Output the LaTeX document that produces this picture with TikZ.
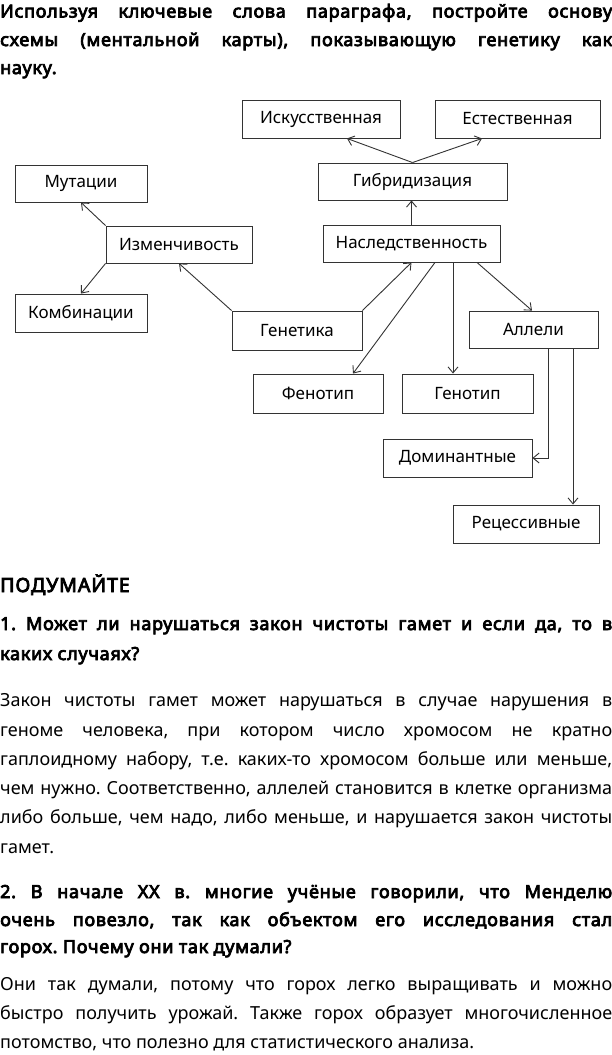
\documentclass[tikz,border=0pt]{standalone}
\usepackage{fontspec}
\setmainfont{Noto Sans}[AutoFakeBold=4.2]
\usetikzlibrary{arrows.meta}
\frenchspacing
\newcommand\jline[1]{\makebox[612pt][s]{#1}}
\newcommand\bodyfont{\fontsize{18}{21}\selectfont}
\newcommand\headfont{\fontsize{18}{21}\selectfont\bfseries\addfontfeatures{LetterSpace=4}}
\begin{document}
\begin{tikzpicture}[x=1pt,y=-1pt,
  box/.style={draw=black!80, line width=0.9pt, inner sep=0pt, font=\fontsize{17}{20}\selectfont, text=black},
  arr/.style={line width=0.9pt, draw=black!80, -{Straight Barb[length=6pt,width=10pt]}},
  ln/.style={anchor=base west, inner sep=0pt, text=black}
]
\useasboundingbox[fill=white] (0,0) rectangle (612,1055);

% title
\node[ln, font=\headfont] (t1) at (0,17.5) {\jline{Используя ключевые слова параграфа, постройте основу}};
\node[ln, font=\headfont] (t2) at (0,46) {\jline{схемы (ментальной карты), показывающую генетику как}};
\node[ln, font=\headfont] (t3) at (0,74) {науку.};

% boxes
\node[box, minimum width=158pt, minimum height=38pt] (isk) at (321,119) {Искусственная};
\node[box, minimum width=165pt, minimum height=38pt] (est) at (517.5,119) {Естественная};
\node[box, minimum width=189pt, minimum height=37pt] (gib) at (412.5,181.5) {Гибридизация};
\node[box, minimum width=177pt, minimum height=37pt] (nas) at (411.5,243.5) {Наследственность};
\node[box, minimum width=130pt, minimum height=39pt] (gen) at (297,330.5) {Генетика};
\node[box, minimum width=129pt, minimum height=37pt] (all) at (533.5,329.5) {Аллели};
\node[box, minimum width=132pt, minimum height=37pt] (mut) at (81,183.5) {Мутации};
\node[box, minimum width=146pt, minimum height=37pt] (izm) at (179,244.5) {Изменчивость};
\node[box, minimum width=132pt, minimum height=38pt] (kom) at (81,313) {Комбинации};
\node[box, minimum width=130pt, minimum height=39pt] (fen) at (318,393.5) {Фенотип};
\node[box, minimum width=131pt, minimum height=39pt] (gnt) at (467.5,393.5) {Генотип};
\node[box, minimum width=149pt, minimum height=38pt] (dom) at (457.5,458) {Доминантные};
\node[box, minimum width=146pt, minimum height=38pt] (rec) at (526,524) {Рецессивные};

% connectors
\draw[arr] (gib.north) -- ([xshift=26pt]isk.south);
\draw[arr] (gib.north) -- ([xshift=-35.5pt]est.south);
\draw[arr] (nas.north) -- (nas.north |- gib.south);
\draw[arr] (gen.north east) -- (nas.south);
\draw[arr] ([xshift=23.5pt]nas.south) -- ([xshift=35pt]fen.north);
\coordinate (g1) at ([xshift=41.5pt]nas.south);
\draw[arr] (g1) -- (g1 |- gnt.north);
\draw[arr] ([xshift=65.5pt]nas.south) -- ([xshift=-1.5pt]all.north);
\coordinate (a1) at ([xshift=14.5pt]all.south);
\draw[arr] (a1) |- (dom.east);
\coordinate (a2) at ([xshift=39.5pt]all.south);
\draw[arr] (a2) -- (a2 |- rec.north);
\draw[arr] (gen.north west) -- (izm.south);
\draw[arr] (izm.north west) -- (mut.south);
\draw[arr] (izm.south west) -- (kom.north);

% questions
\node[ln, font=\fontsize{19.5}{22}\selectfont\bfseries\addfontfeatures{LetterSpace=5}] (h0) at (0,592) {ПОДУМАЙТЕ};
\node[ln, font=\headfont] (q1a) at (0,630) {\jline{1. Может ли нарушаться закон чистоты гамет и если да, то в}};
\node[ln, font=\headfont] (q1b) at (0,660) {каких случаях?};
\node[ln, font=\bodyfont] (b1) at (0,706.7) {\jline{Закон чистоты гамет может нарушаться в случае нарушения в}};
\node[ln, font=\bodyfont] (b2) at (0,736) {\jline{геноме человека, при котором число хромосом не кратно}};
\node[ln, font=\bodyfont] (b3) at (0,765.2) {\jline{гаплоидному набору, т.е. каких-то хромосом больше или меньше,}};
\node[ln, font=\bodyfont] (b4) at (0,794.5) {\jline{чем нужно. Соответственно, аллелей становится в клетке организма}};
\node[ln, font=\bodyfont] (b5) at (0,823.7) {\jline{либо больше, чем надо, либо меньше, и нарушается закон чистоты}};
\node[ln, font=\bodyfont] (b6) at (0,853) {гамет.};
\node[ln, font=\headfont] (q2a) at (0,898) {\jline{2. В начале XX в. многие учёные говорили, что Менделю}};
\node[ln, font=\headfont] (q2b) at (0,926) {\jline{очень повезло, так как объектом его исследования стал}};
\node[ln, font=\headfont] (q2c) at (0,953) {горох. Почему они так думали?};
\node[ln, font=\bodyfont] (c1) at (0,990.7) {\jline{Они так думали, потому что горох легко выращивать и можно}};
\node[ln, font=\bodyfont] (c2) at (0,1019.5) {\jline{быстро получить урожай. Также горох образует многочисленное}};
\node[ln, font=\bodyfont] (c3) at (0,1048) {потомство, что полезно для статистического анализа.};
\end{tikzpicture}
\end{document}
